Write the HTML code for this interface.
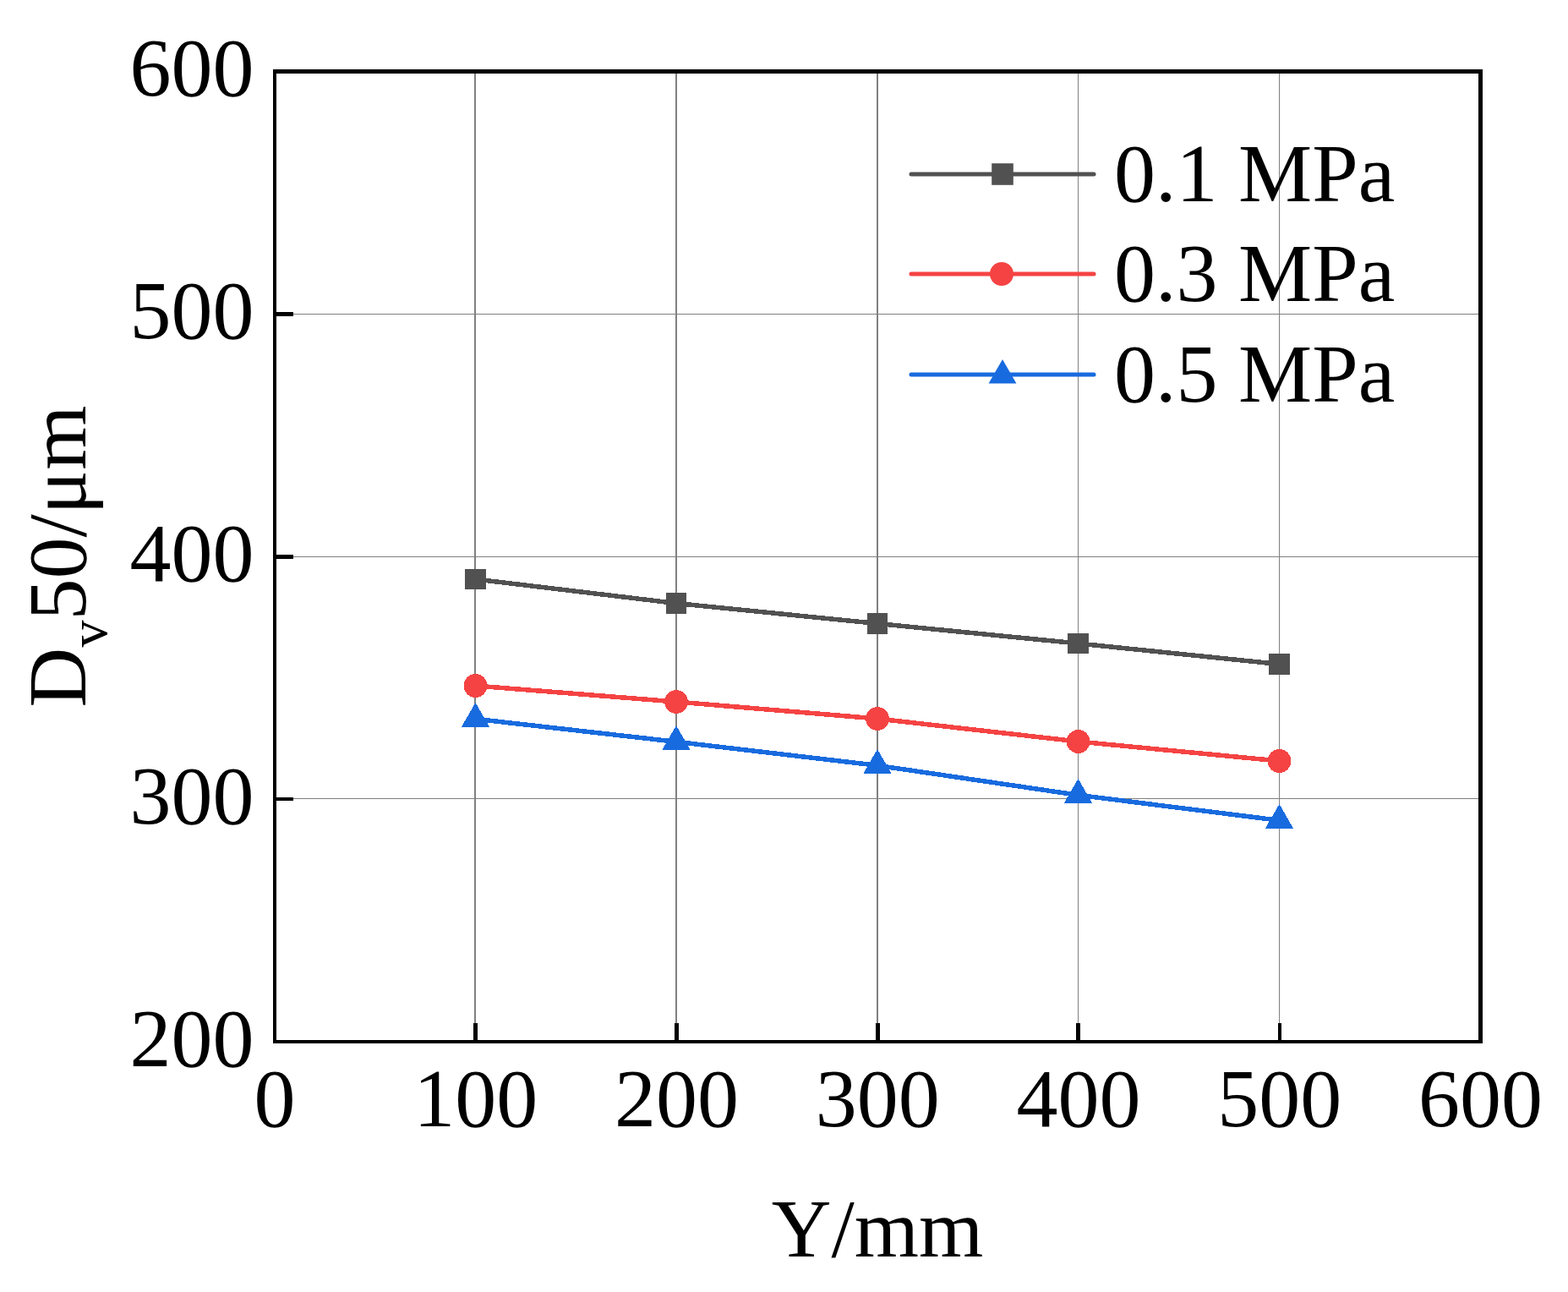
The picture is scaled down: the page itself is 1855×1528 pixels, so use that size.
<!DOCTYPE html><html><head><meta charset="utf-8"><title>Dv50 vs Y</title><style>html,body{margin:0;padding:0;background:#fff;overflow:hidden;}svg{display:block;}text{font-family:"Liberation Serif","Times New Roman",serif;fill:#000;}</style></head><body>
<svg width="1855" height="1528" viewBox="0 0 1855 1528">
<rect width="1855" height="1528" fill="#fff"/>
<g shape-rendering="crispEdges"><rect x="561" y="87" width="2" height="1143" fill="#808080"/><rect x="799" y="87" width="2" height="1143" fill="#808080"/><rect x="1037" y="87" width="2" height="1143" fill="#808080"/><rect x="1275" y="87" width="1" height="1143" fill="#808080"/><rect x="1513" y="87" width="1" height="1143" fill="#808080"/><rect x="327" y="371" width="1422" height="1" fill="#808080"/><rect x="327" y="658" width="1422" height="1" fill="#808080"/><rect x="327" y="944" width="1422" height="1" fill="#808080"/></g>
<polyline points="562.5,685.0 800.0,713.5 1038.0,737.5 1275.5,761.0 1513.5,785.5" fill="none" stroke="#515151" stroke-width="5.5" stroke-linejoin="round" shape-rendering="crispEdges"/>
<polyline points="562.5,811.0 800.0,830.0 1038.0,850.0 1275.5,877.0 1513.5,900.0" fill="none" stroke="#F54343" stroke-width="5.5" stroke-linejoin="round" shape-rendering="crispEdges"/>
<polyline points="562.5,850.3 800.0,877.3 1038.0,905.3 1275.5,940.3 1513.5,970.3" fill="none" stroke="#186BDF" stroke-width="5.5" stroke-linejoin="round" shape-rendering="crispEdges"/>
<g shape-rendering="crispEdges"><rect x="550.25" y="672.75" width="24.5" height="24.5" fill="#515151"/><rect x="787.75" y="701.25" width="24.5" height="24.5" fill="#515151"/><rect x="1025.75" y="725.25" width="24.5" height="24.5" fill="#515151"/><rect x="1263.25" y="748.75" width="24.5" height="24.5" fill="#515151"/><rect x="1501.25" y="773.25" width="24.5" height="24.5" fill="#515151"/><circle cx="562.5" cy="811.0" r="13.9" fill="#F54343"/><circle cx="800.0" cy="830.0" r="13.9" fill="#F54343"/><circle cx="1038.0" cy="850.0" r="13.9" fill="#F54343"/><circle cx="1275.5" cy="877.0" r="13.9" fill="#F54343"/><circle cx="1513.5" cy="900.0" r="13.9" fill="#F54343"/><polygon points="562.5,831.0 579.2,859.9 545.8,859.9" fill="#186BDF"/><polygon points="800.0,858.0 816.7,886.9 783.3,886.9" fill="#186BDF"/><polygon points="1038.0,886.0 1054.7,914.9 1021.3,914.9" fill="#186BDF"/><polygon points="1275.5,921.0 1292.2,949.9 1258.8,949.9" fill="#186BDF"/><polygon points="1513.5,951.0 1530.2,979.9 1496.8,979.9" fill="#186BDF"/></g>
<g shape-rendering="crispEdges"><rect x="323" y="82" width="1431" height="5" fill="#000"/><rect x="323" y="1230" width="1431" height="4" fill="#000"/><rect x="323" y="82" width="4" height="1152" fill="#000"/><rect x="1749" y="82" width="5" height="1152" fill="#000"/><rect x="560" y="1210" width="5" height="20" fill="#000"/><rect x="798" y="1210" width="5" height="20" fill="#000"/><rect x="1036" y="1210" width="5" height="20" fill="#000"/><rect x="1273" y="1210" width="5" height="20" fill="#000"/><rect x="1512" y="1210" width="4" height="20" fill="#000"/><rect x="327" y="369" width="20" height="5" fill="#000"/><rect x="327" y="656" width="20" height="5" fill="#000"/><rect x="327" y="943" width="20" height="4" fill="#000"/></g>
<text x="300.5" y="1260.5" text-anchor="end" font-size="98">200</text><text x="300.5" y="973.6" text-anchor="end" font-size="98">300</text><text x="300.5" y="686.8" text-anchor="end" font-size="98">400</text><text x="300.5" y="399.9" text-anchor="end" font-size="98">500</text><text x="300.5" y="113.0" text-anchor="end" font-size="98">600</text><text x="325.0" y="1331.5" text-anchor="middle" font-size="98">0</text><text x="562.8" y="1331.5" text-anchor="middle" font-size="98">100</text><text x="800.5" y="1331.5" text-anchor="middle" font-size="98">200</text><text x="1038.2" y="1331.5" text-anchor="middle" font-size="98">300</text><text x="1276.0" y="1331.5" text-anchor="middle" font-size="98">400</text><text x="1513.8" y="1331.5" text-anchor="middle" font-size="98">500</text><text x="1751.5" y="1331.5" text-anchor="middle" font-size="98">600</text>
<text x="1038" y="1486" text-anchor="middle" font-size="98">Y/mm</text>
<text transform="translate(101,658) rotate(-90)" text-anchor="middle" font-size="98">D<tspan font-size="64" dy="25">v</tspan><tspan dy="-25">50/μm</tspan></text>
<line x1="1078" y1="206" x2="1294" y2="206" stroke="#515151" stroke-width="5" stroke-linecap="round"/><rect x="1173.2" y="193.2" width="25.6" height="25.6" fill="#515151"/><text x="1318" y="238" font-size="98">0.1 MPa</text><line x1="1078" y1="324" x2="1294" y2="324" stroke="#F54343" stroke-width="5" stroke-linecap="round"/><circle cx="1185" cy="324" r="14" fill="#F54343"/><text x="1318" y="356" font-size="98">0.3 MPa</text><line x1="1078" y1="443" x2="1294" y2="443" stroke="#186BDF" stroke-width="5" stroke-linecap="round"/><polygon points="1186,425 1202.45,453.5 1169.55,453.5" fill="#186BDF"/><text x="1318" y="475" font-size="98">0.5 MPa</text>
</svg></body></html>
